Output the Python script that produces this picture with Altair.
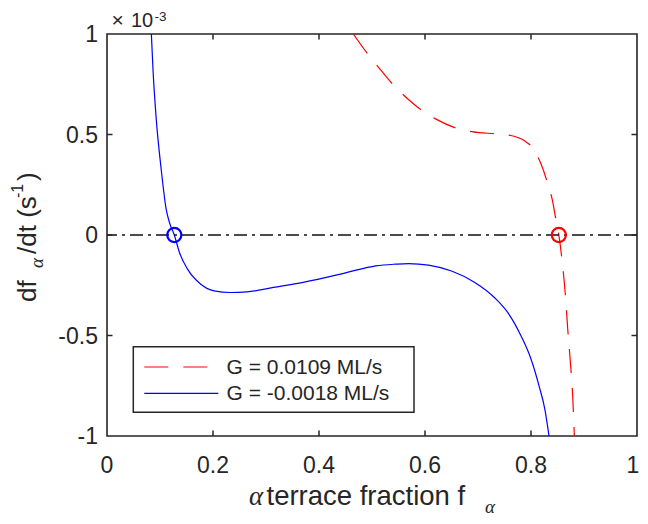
import altair as alt
import pandas as pd

# ---- data (y in units of 1e-3 s^-1) ----
blue_x = [0.0837, 0.0868, 0.093, 0.1023, 0.1117, 0.118, 0.127, 0.1367, 0.152, 0.177,
          0.202, 0.233, 0.264, 0.314, 0.370, 0.432, 0.482, 0.507, 0.5443, 0.569,
          0.6066, 0.650, 0.694, 0.731, 0.756, 0.781, 0.800, 0.815, 0.826, 0.834]
blue_y = [1.0, 0.822, 0.574, 0.326, 0.128, 0.061, 0.0, -0.087, -0.170, -0.245,
          -0.278, -0.286, -0.283, -0.261, -0.236, -0.200, -0.167, -0.154, -0.145, -0.142,
          -0.150, -0.179, -0.236, -0.311, -0.385, -0.501, -0.617, -0.749, -0.865, -1.0]
red_x = [0.4647, 0.4915, 0.510, 0.538, 0.560, 0.594, 0.619, 0.660, 0.691, 0.734,
         0.762, 0.787, 0.803, 0.818, 0.832, 0.840, 0.848, 0.8525, 0.8587, 0.865,
         0.8693, 0.8743, 0.8786, 0.8818]
red_y = [1.0, 0.902, 0.842, 0.753, 0.695, 0.620, 0.579, 0.531, 0.513, 0.503,
         0.495, 0.470, 0.434, 0.359, 0.252, 0.177, 0.062, 0.0, -0.129, -0.303,
         -0.468, -0.633, -0.799, -1.0]
series_names = ["G = 0.0109 ML/s", "G = -0.0018 ML/s"]
root_red_x = [0.8525]
root_blue_x = [0.127]
zero_level = [0]
x_ticks = [0, 0.2, 0.4, 0.6, 0.8, 1]
x_tick_labels = ["0", "0.2", "0.4", "0.6", "0.8", "1"]
y_ticks = [-1, -0.5, 0, 0.5, 1]
y_tick_labels = ["-1", "-0.5", "0", "0.5", "1"]
x_inner_ticks = [0.2, 0.4, 0.6, 0.8]
y_inner_ticks = [-0.5, 0, 0.5]

W, H = 530, 402
FONT = "Liberation Sans"
AX = "#262626"
RED = "#ff0000"
BLUE = "#0000ff"

xs = alt.Scale(domain=[0, 1], nice=False, zero=False)
ys = alt.Scale(domain=[-1, 1], nice=False, zero=False)


def X(f):
    return alt.X(f, type="quantitative", scale=xs, axis=None)


def Y(f):
    return alt.Y(f, type="quantitative", scale=ys, axis=None)


red_df = pd.DataFrame({"x": red_x, "y": red_y})
blue_df = pd.DataFrame({"x": blue_x, "y": blue_y})

red_line = alt.Chart(red_df).mark_line(
    color=RED, strokeWidth=1.2, strokeDash=[24, 15], clip=True, interpolate="monotone"
).encode(x=X("x"), y=Y("y"))

blue_line = alt.Chart(blue_df).mark_line(
    color=BLUE, strokeWidth=1.2, clip=True, interpolate="monotone"
).encode(x=X("x"), y=Y("y"))

zero_line = alt.Chart(pd.DataFrame({"y": zero_level})).mark_rule(
    color="#111111", strokeWidth=1.3, strokeDash=[13, 5, 3, 5]
).encode(y=Y("y"))

red_root = alt.Chart(pd.DataFrame({"x": root_red_x, "y": zero_level})).mark_point(
    shape="circle", filled=False, size=200, strokeWidth=2.2, color=RED, opacity=1
).encode(x=X("x"), y=Y("y"))

blue_root = alt.Chart(pd.DataFrame({"x": root_blue_x, "y": zero_level})).mark_point(
    shape="circle", filled=False, size=200, strokeWidth=2.2, color=BLUE, opacity=1
).encode(x=X("x"), y=Y("y"))

# inward ticks on all four sides (MATLAB box style)
xt = pd.DataFrame({"v": x_inner_ticks})
yt = pd.DataFrame({"v": y_inner_ticks})
TL = 5.5
tick_bottom = alt.Chart(xt).mark_rule(color=AX, strokeWidth=1.5).encode(
    x=X("v"), y=alt.value(H), y2=alt.value(H - TL))
tick_top = alt.Chart(xt).mark_rule(color=AX, strokeWidth=1.5).encode(
    x=X("v"), y=alt.value(0), y2=alt.value(TL))
tick_left = alt.Chart(yt).mark_rule(color=AX, strokeWidth=1.5).encode(
    y=Y("v"), x=alt.value(0), x2=alt.value(TL))
tick_right = alt.Chart(yt).mark_rule(color=AX, strokeWidth=1.5).encode(
    y=Y("v"), x=alt.value(W), x2=alt.value(W - TL))

# tick labels (the last x label nudged in so it stays on the page)
x_lab = alt.Chart(pd.DataFrame({"v": x_ticks[:-1], "t": x_tick_labels[:-1]})).mark_text(
    font=FONT, fontSize=23, color=AX, align="center", baseline="alphabetic"
).encode(x=X("v"), y=alt.value(439), text="t:N")
x_lab_last = alt.Chart(pd.DataFrame({"v": x_ticks[-1:], "t": x_tick_labels[-1:]})).mark_text(
    font=FONT, fontSize=23, color=AX, align="center", baseline="alphabetic", dx=-4
).encode(x=X("v"), y=alt.value(439), text="t:N")
y_lab = alt.Chart(pd.DataFrame({"v": y_ticks, "t": y_tick_labels})).mark_text(
    font=FONT, fontSize=23, color=AX, align="right", baseline="alphabetic", dy=8.2
).encode(y=Y("v"), x=alt.value(-9), text="t:N")


def txt(s, x, y, size, angle=0, font=FONT, style="normal", align="left", baseline="alphabetic"):
    return alt.Chart(alt.Data(values=[{"t": s}])).mark_text(
        font=font, fontSize=size, fontStyle=style, color=AX, align=align,
        baseline=baseline, angle=angle
    ).encode(x=alt.value(x), y=alt.value(y), text="t:N")


# x-axis title: alpha terrace fraction f_alpha
xt1 = txt("α", 142, 471, 27, font="Liberation Serif", style="italic")
xt2 = txt("terrace fraction f", 159.5, 471, 27.5)
xt3 = txt("α", 378, 479, 19, font="Liberation Serif", style="italic")

# y-axis title: df_alpha/dt (s^-1), rotated
yt1 = txt("df", -71, 268, 26, angle=270)
yt2 = txt("α", -64, 234, 19, angle=270, font="Liberation Serif", style="italic")
yt3 = txt("/dt (s", -71, 220, 26, angle=270)
yt4 = txt("-1", -84, 164, 16, angle=270)
yt5 = txt(")", -71, 147, 26, angle=270)

# exponent label
ex0 = txt("×", 4.5, -7.3, 21)
ex1 = txt("10", 24, -7.3, 20)
ex2 = txt("-3", 47.5, -13.5, 13.5)

# legend
leg_box = alt.Chart(alt.Data(values=[{}])).mark_rect(
    fill="white", stroke=AX, strokeWidth=1.5
).encode(x=alt.value(26.3), x2=alt.value(307), y=alt.value(312.7), y2=alt.value(378.3))
leg_red = alt.Chart(alt.Data(values=[{}])).mark_rule(
    color=RED, strokeWidth=1.2, strokeDash=[24, 15]
).encode(x=alt.value(37.3), x2=alt.value(111.3), y=alt.value(333))
leg_blue = alt.Chart(alt.Data(values=[{}])).mark_rule(
    color=BLUE, strokeWidth=1.2
).encode(x=alt.value(37.3), x2=alt.value(111.3), y=alt.value(359.3))
leg_t1 = txt(series_names[0], 119.5, 333.5, 21, baseline="middle")
leg_t2 = txt(series_names[1], 119.5, 359.5, 21, baseline="middle")

chart = alt.layer(
    red_line, blue_line, zero_line, red_root, blue_root,
    tick_bottom, tick_top, tick_left, tick_right, x_lab, x_lab_last, y_lab,
    xt1, xt2, xt3, yt1, yt2, yt3, yt4, yt5, ex0, ex1, ex2,
    leg_box, leg_red, leg_blue, leg_t1, leg_t2,
).properties(
    width=W, height=H,
    padding={"left": 99, "top": 26, "right": 3, "bottom": 80},
    autosize=alt.AutoSizeParams(type="none"),
    background="white",
).configure_view(stroke=AX, strokeWidth=1.6)

chart.save("out.html", embed_options={"renderer": "svg", "actions": False})
